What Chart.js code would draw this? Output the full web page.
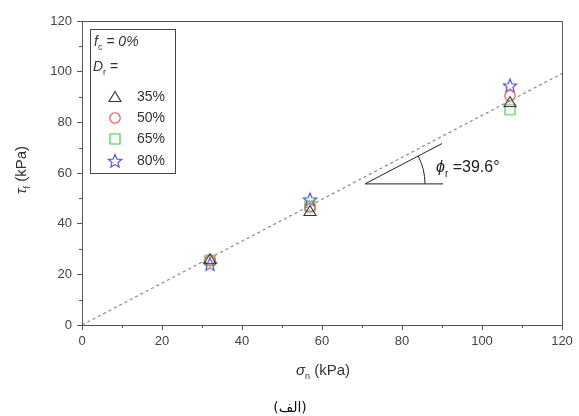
<!DOCTYPE html>
<html>
<head>
<meta charset="utf-8">
<script src="https://cdn.jsdelivr.net/npm/chart.js@4/dist/chart.umd.min.js"></script>
<style>
  html, body { margin: 0; padding: 0; background: #fff; }
  #wrap { width: 579px; height: 416px; position: relative; }
</style>
</head>
<body>
<div id="wrap"><canvas id="c" width="579" height="416"></canvas></div>
<script>
// Normal stress (kPa) for the three test levels
const normalStress = [32, 57, 107];
// Peak shear stress (kPa) for each relative density
const shear35 = [26, 45, 88];
const shear50 = [25.5, 46.5, 90.5];
const shear65 = [25.5, 47, 85];
const shear80 = [24, 49.5, 94.5];
const densityLabels = ['35%', '50%', '65%', '80%'];
// Friction angle of the failure envelope (degrees)
const frictionAngle = 39.6;
const axisTicks = [0, 20, 40, 60, 80, 100, 120];

const FONT = '"Liberation Sans", Arial, sans-serif';
const colors = ['#333333', '#e84848', '#3cc83c', '#4848d0'];

function makeMarker(kind, color) {
  const s = 18, c = document.createElement('canvas');
  c.width = s; c.height = s;
  const g = c.getContext('2d');
  g.strokeStyle = color; g.lineWidth = 1.1;
  const m = s / 2;
  g.beginPath();
  if (kind === 'triangle') {
    g.moveTo(m, m - 5.5); g.lineTo(m + 6, m + 4.5); g.lineTo(m - 6, m + 4.5); g.closePath();
  } else if (kind === 'circle') {
    g.arc(m, m, 5.2, 0, Math.PI * 2);
  } else if (kind === 'rect') {
    g.rect(m - 5, m - 5, 10, 10);
  } else {
    for (let i = 0; i < 10; i++) {
      const r = i % 2 === 0 ? 7 : 3.1;
      const a = -Math.PI / 2 + i * Math.PI / 5;
      const px = m + r * Math.cos(a), py = m + 0.5 + r * Math.sin(a);
      i === 0 ? g.moveTo(px, py) : g.lineTo(px, py);
    }
    g.closePath();
  }
  g.stroke();
  return c;
}
const markers = [
  makeMarker('triangle', colors[0]),
  makeMarker('circle', colors[1]),
  makeMarker('rect', colors[2]),
  makeMarker('star', colors[3])
];

function pts(ys) { return normalStress.map((x, i) => ({ x: x, y: ys[i] })); }
const slope = Math.tan(frictionAngle * Math.PI / 180);
const envelope = [{ x: 0, y: 0 }, { x: 120, y: 120 * slope }];

// Draws a run of text pieces, some italic and some subscripted
function drawRich(ctx, parts, x, y, size, align) {
  const fontOf = p => (p.italic ? 'italic ' : '') + (p.sub ? Math.round(size * 0.62) : size) + 'px ' + FONT;
  let w = 0;
  parts.forEach(p => { ctx.font = fontOf(p); w += ctx.measureText(p.t).width; });
  let cx = align === 'center' ? x - w / 2 : x;
  ctx.textAlign = 'left';
  ctx.textBaseline = 'middle';
  parts.forEach(p => {
    ctx.font = fontOf(p);
    ctx.fillText(p.t, cx, p.sub ? y + size * 0.38 : y);
    cx += ctx.measureText(p.t).width;
  });
}

const decorations = {
  id: 'decorations',
  afterDraw(chart) {
    const ctx = chart.ctx, a = chart.chartArea;
    const xs = chart.scales.x, ys = chart.scales.y;
    ctx.save();
    // frame
    ctx.strokeStyle = '#555'; ctx.lineWidth = 1;
    ctx.strokeRect(a.left + 0.5, a.top + 0.5, a.right - a.left, a.bottom - a.top);
    // minor ticks
    ctx.beginPath();
    for (let v = 10; v < 120; v += 20) {
      const px = Math.round(xs.getPixelForValue(v)) + 0.5;
      ctx.moveTo(px, a.bottom); ctx.lineTo(px, a.bottom + 3);
      const py = Math.round(ys.getPixelForValue(v)) + 0.5;
      ctx.moveTo(a.left, py); ctx.lineTo(a.left - 3, py);
    }
    ctx.stroke();

    ctx.fillStyle = '#333';
    // axis titles
    drawRich(ctx, [{ t: 'σ', italic: true }, { t: 'n', sub: true }, { t: ' (kPa)' }], 323, 371, 15, 'center');
    ctx.save();
    ctx.translate(22, 170);
    ctx.rotate(-Math.PI / 2);
    drawRich(ctx, [{ t: 'τ', italic: true }, { t: 'f', sub: true }, { t: ' (kPa)' }], 0, 0, 15, 'center');
    ctx.restore();

    // friction angle marker
    const x0 = xs.getPixelForValue(70.75), y0 = ys.getPixelForValue(55.7);
    const x1 = xs.getPixelForValue(90.25);
    const x2 = xs.getPixelForValue(90), y2 = ys.getPixelForValue(55.7 + (90 - 70.75) * slope);
    ctx.strokeStyle = '#222'; ctx.lineWidth = 1;
    ctx.beginPath();
    ctx.moveTo(x0, y0); ctx.lineTo(x1, y0);
    ctx.moveTo(x0, y0); ctx.lineTo(x2, y2);
    ctx.stroke();
    const ang = Math.atan2(y2 - y0, x2 - x0);
    ctx.beginPath();
    ctx.arc(x0, y0, 60, ang, 0);
    ctx.stroke();
    ctx.fillStyle = '#222';
    drawRich(ctx, [{ t: 'ϕ', italic: true }, { t: 'r', sub: true }, { t: ' =' + frictionAngle.toFixed(1) + '°' }], 436, 168, 16, 'left');

    // key box
    ctx.strokeStyle = '#444';
    ctx.strokeRect(90.5, 29.5, 85, 144);
    ctx.fillStyle = '#333';
    drawRich(ctx, [{ t: 'f', italic: true }, { t: 'c', sub: true }, { t: ' = 0%', italic: true }], 94, 42, 14, 'left');
    drawRich(ctx, [{ t: 'D', italic: true }, { t: 'r', sub: true }, { t: ' =' }], 93, 67, 14, 'left');
    const rows = [97, 118, 139, 161];
    rows.forEach((ry, i) => {
      ctx.drawImage(markers[i], 115 - 9, ry - 9);
      ctx.font = '14px ' + FONT;
      ctx.textAlign = 'left'; ctx.textBaseline = 'middle';
      ctx.fillStyle = '#333';
      ctx.fillText(densityLabels[i], 137, ry);
    });

    // caption
    ctx.font = '14px "DejaVu Sans", sans-serif';
    ctx.direction = 'rtl';
    ctx.textAlign = 'center';
    ctx.fillStyle = '#111';
    ctx.fillText('(الف)', 290, 408);
    ctx.restore();
  }
};

const tickFont = { family: FONT, size: 13 };
const axisCommon = {
  min: 0, max: 120,
  afterBuildTicks(scale) { scale.ticks = axisTicks.map(v => ({ value: v })); },
  grid: { drawOnChartArea: false, tickLength: 5, color: '#555', tickColor: '#555' },
  border: { color: '#555' },
  ticks: { color: '#444', font: tickFont, padding: 4 }
};

new Chart(document.getElementById('c'), {
  type: 'scatter',
  data: {
    datasets: [
      { type: 'line', data: envelope, borderColor: '#888', borderWidth: 1.2, borderDash: [3, 3], pointRadius: 0, fill: false },
      { data: pts(shear35), pointStyle: markers[0] },
      { data: pts(shear50), pointStyle: markers[1] },
      { data: pts(shear65), pointStyle: markers[2] },
      { data: pts(shear80), pointStyle: markers[3] }
    ]
  },
  options: {
    responsive: false,
    animation: false,
    layout: { padding: { top: 21, right: 17, left: 0, bottom: 0 } },
    plugins: { legend: { display: false }, tooltip: { enabled: false } },
    scales: {
      x: Object.assign({}, axisCommon, {
        afterFit(scale) { scale.height = 91; }
      }),
      y: Object.assign({}, axisCommon, {
        afterFit(scale) { scale.width = 82; },
        ticks: { color: '#444', font: tickFont, padding: 5 }
      })
    }
  },
  plugins: [decorations]
});
</script>
</body>
</html>
